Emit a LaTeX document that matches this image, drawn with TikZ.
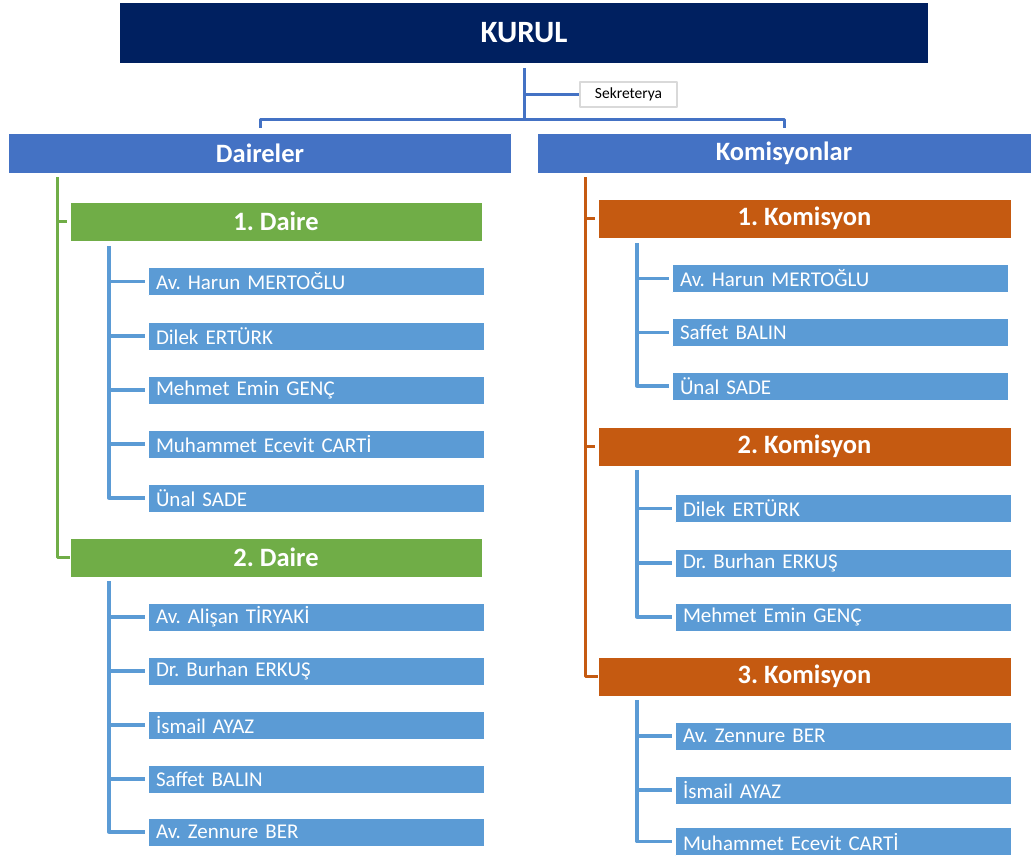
\documentclass[tikz,border=0pt]{standalone}
\usepackage{fontspec}
\setmainfont{Carlito}
\frenchspacing
\definecolor{kurulnavy}{HTML}{002060}
\definecolor{anamavi}{HTML}{4472C4}
\definecolor{daireyesil}{HTML}{70AD47}
\definecolor{komturuncu}{HTML}{C55A11}
\definecolor{uyemavi}{HTML}{5B9BD5}
\begin{document}
\begin{tikzpicture}[x=1pt,y=-1pt,line join=round,
  kurulbox/.style={fill=kurulnavy,text=white,font=\bfseries\fontsize{31}{36}\selectfont,minimum width=808pt,minimum height=60pt,inner sep=0pt},
  anabox/.style={fill=anamavi,draw=white,line width=0.5pt,text=white,font=\bfseries\fontsize{26.5}{30}\selectfont,minimum height=40pt,inner sep=0pt},
  dairebox/.style={fill=daireyesil,draw=white,line width=0.5pt,text=white,font=\bfseries\fontsize{26.5}{30}\selectfont,minimum width=412pt,minimum height=39pt,inner sep=0pt},
  kombox/.style={fill=komturuncu,draw=white,line width=0.5pt,text=white,font=\bfseries\fontsize{26.5}{30}\selectfont,minimum width=413pt,minimum height=39pt,inner sep=0pt},
  uyebox/.style={fill=uyemavi,draw=white,line width=0.5pt,text=white,font=\fontsize{21}{24}\selectfont,text width=320pt,inner xsep=8pt,inner ysep=0pt,minimum height=28pt,align=left},
  sekrbox/.style={fill=white,draw=black!15,line width=2.5pt,font=\fontsize{15.5}{18}\selectfont,minimum width=97pt,minimum height=25pt,inner sep=0pt},
  anahat/.style={draw=anamavi,line width=3pt},
  daireh/.style={draw=daireyesil,line width=3pt},
  komh/.style={draw=komturuncu,line width=3pt},
  uyehat/.style={draw=uyemavi,line width=3.3pt}]
\useasboundingbox (0,0) rectangle (1031,857);
% ust kisim
\node[kurulbox] (kurul) at (524,33) {KURUL};
\node[sekrbox] (sekr) at (628.5,94.5) {Sekreterya};
\node[anabox,minimum width=503pt] (daireler) at (260,153) {Daireler};
\node[anabox,minimum width=494pt] (komisyonlar) at (784,153) {Komisyonlar};
\coordinate (hub) at (524,119);
\draw[anahat] ([yshift=-5pt]kurul.south) -- (hub);
\draw[anahat] (kurul.south |- sekr) -- (sekr.west);
\draw[anahat] ([yshift=5pt]daireler.north) -- (daireler.north |- hub) -- (komisyonlar.north |- hub) -- ([yshift=5pt]komisyonlar.north);
% daireler
\node[dairebox] (d1) at (276,221.5) {1. Daire};
\node[dairebox] (d2) at (276,557.5) {2. Daire};
\coordinate (gtrunk) at (57,177);
\draw[daireh] (gtrunk) -- (gtrunk |- d2) -- (d2.west);
\draw[daireh] (gtrunk |- d1) -- ([xshift=-3pt]d1.west);
\node[uyebox] (m11) at (316,281.5) {Av. Harun MERTOĞLU};
\node[uyebox] (m12) at (316,336) {Dilek ERTÜRK};
\node[uyebox] (m13) at (316,390) {Mehmet Emin GENÇ};
\node[uyebox] (m14) at (316,444) {Muhammet Ecevit CARTİ};
\node[uyebox] (m15) at (316,498) {Ünal SADE};
\coordinate (t1) at (109,246);
\draw[uyehat] (t1) -- (t1 |- m15) -- ([xshift=-3pt]m15.west);
\foreach \m in {m11,m12,m13,m14}
  \draw[uyehat] (t1 |- \m) -- ([xshift=-3pt]\m.west);
\node[uyebox] (m21) at (316,617) {Av. Alişan TİRYAKİ};
\node[uyebox] (m22) at (316,671) {Dr. Burhan ERKUŞ};
\node[uyebox] (m23) at (316,725) {İsmail AYAZ};
\node[uyebox] (m24) at (316,779) {Saffet BALIN};
\node[uyebox] (m25) at (316,832) {Av. Zennure BER};
\coordinate (t2) at (109,581);
\draw[uyehat] (t2) -- (t2 |- m25) -- ([xshift=-3pt]m25.west);
\foreach \m in {m21,m22,m23,m24}
  \draw[uyehat] (t2 |- \m) -- ([xshift=-3pt]\m.west);
% komisyonlar
\node[kombox] (k1) at (804.5,218.5) {1. Komisyon};
\node[kombox] (k2) at (804.5,446.5) {2. Komisyon};
\node[kombox] (k3) at (804.5,676.5) {3. Komisyon};
\coordinate (otrunk) at (585,177);
\draw[komh] (otrunk) -- (otrunk |- k3) -- (k3.west);
\draw[komh] (otrunk |- k1) -- ([xshift=-3pt]k1.west);
\draw[komh] (otrunk |- k2) -- ([xshift=-3pt]k2.west);
\node[uyebox] (n11) at (840,278.5) {Av. Harun MERTOĞLU};
\node[uyebox] (n12) at (840,332.5) {Saffet BALIN};
\node[uyebox] (n13) at (840,386) {Ünal SADE};
\coordinate (s1) at (637,243);
\draw[uyehat] (s1) -- (s1 |- n13) -- ([xshift=-3pt]n13.west);
\foreach \m in {n11,n12}
  \draw[uyehat] (s1 |- \m) -- ([xshift=-3pt]\m.west);
\node[uyebox] (n21) at (843,508.5) {Dilek ERTÜRK};
\node[uyebox] (n22) at (843,563) {Dr. Burhan ERKUŞ};
\node[uyebox] (n23) at (843,617) {Mehmet Emin GENÇ};
\coordinate (s2) at (637,470);
\draw[uyehat] (s2) -- (s2 |- n23) -- ([xshift=-3pt]n23.west);
\foreach \m in {n21,n22}
  \draw[uyehat] (s2 |- \m) -- ([xshift=-3pt]\m.west);
\node[uyebox] (n31) at (843,736) {Av. Zennure BER};
\node[uyebox] (n32) at (843,790) {İsmail AYAZ};
\node[uyebox] (n33) at (843,841.5) {Muhammet Ecevit CARTİ};
\coordinate (s3) at (637,700);
\draw[uyehat] (s3) -- (s3 |- n33) -- ([xshift=-3pt]n33.west);
\foreach \m in {n31,n32}
  \draw[uyehat] (s3 |- \m) -- ([xshift=-3pt]\m.west);
\end{tikzpicture}
\end{document}
